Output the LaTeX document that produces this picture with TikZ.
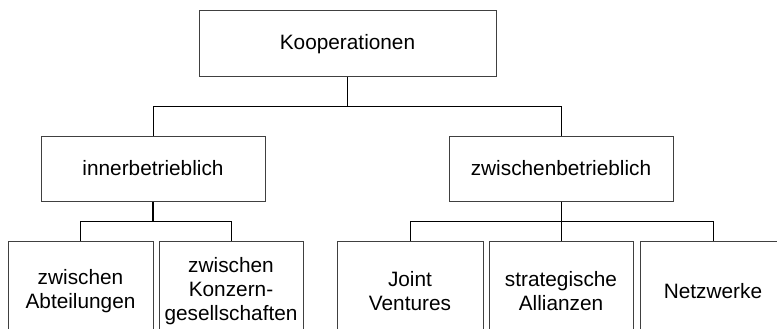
\documentclass[tikz,border=0pt]{standalone}
\usepackage{fontspec}
\setmainfont{Liberation Sans}
\begin{document}
\begin{tikzpicture}[x=1pt,y=-1pt,
  box/.style={draw=black!75, line width=1pt, fill=white, align=center,
    inner sep=0pt, font=\fontsize{20.8}{24}\selectfont},
  link/.style={draw=black, line width=1pt}]
\useasboundingbox (0,0) rectangle (777,329);
\clip (0,0) rectangle (777,329);

% root
\node[box, minimum width=297pt, minimum height=66pt] (root) at (347.5,44) {Kooperationen};

% second level
\node[box, minimum width=224pt, minimum height=65pt] (inner) at (153,168.5) {innerbetrieblich};
\node[box, minimum width=224pt, minimum height=65pt] (inter) at (561,168.5) {zwischenbetrieblich};

% leaves
\node[box, minimum width=145pt, minimum height=100pt] (abt)  at (80.5,291) {zwischen\\Abteilungen};
\node[box, minimum width=144pt, minimum height=100pt] (konz) at (231,291) {zwischen\\Konzern-\\gesellschaften};
\node[box, minimum width=146pt, minimum height=100pt] (jv)   at (410,291) {Joint\\Ventures};
\node[box, minimum width=144pt, minimum height=100pt] (alli) at (561,291) {strategische\\Allianzen};
\node[box, minimum width=146pt, minimum height=100pt] (netz) at (713,291) {Netzwerke};

% connectors
\draw[link] (root.south) -- ++(0,29) -| (inner.north);
\draw[link] (root.south) -- ++(0,29) -| (inter.north);

\draw[link, line width=1.6pt] (inner.south) -- ++(0,20) coordinate (busA);
\draw[link] (busA) -| (abt.north);
\draw[link] (busA) -| (konz.north);

\draw[link] (inter.south) -- (alli.north);
\draw[link] (inter.south) -- ++(0,20) -| (jv.north);
\draw[link] (inter.south) -- ++(0,20) -| (netz.north);
\end{tikzpicture}
\end{document}
